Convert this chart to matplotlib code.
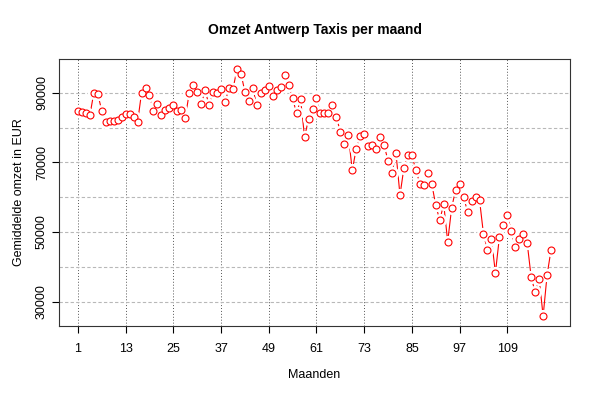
import numpy as np
import matplotlib
matplotlib.use("Agg")
from matplotlib import pyplot as plt

plt.rcParams['font.family'] = ['Liberation Sans', 'DejaVu Sans']

title = 'Omzet Antwerp Taxis per maand'
xlabel = 'Maanden'
ylabel = 'Gemiddelde omzet in EUR'

omzet = [
    84840, 84560, 84270, 83500, 90000, 89600, 84840, 81500, 81800, 81800,
    82260, 82930, 83800, 83800, 83120, 81500, 90000, 91430, 89330, 84840,
    86750, 83700, 85030, 85700, 86560, 84840, 85130, 82840, 90000, 92290,
    90290, 86660, 90670, 86370, 90290, 90000, 91050, 87330, 91340, 91050,
    96880, 95540, 90290, 87710, 91340, 86370, 90000, 90670, 92000, 88950,
    90670, 91620, 95250, 92290, 88380, 84080, 88090, 77300, 82450, 85420,
    88380, 84080, 84080, 84080, 86370, 83030, 78830, 75290, 77870, 67750,
    73950, 77580, 78250, 74720, 75010, 73950, 77300, 75010, 70420, 67080,
    72620, 60580, 68510, 72040, 72040, 67750, 63930, 63540, 67080, 63830,
    57620, 53420, 58000, 47210, 56950, 62210, 63830, 60200, 55710, 58960,
    60200, 59250, 49410, 44920, 48070, 38230, 48450, 51990, 54950, 50170,
    45590, 48070, 49410, 46730, 36990, 32690, 36610, 25820, 37660, 44920,
]
maanden = np.arange(1, len(omzet) + 1)
xticks = [1, 13, 25, 37, 49, 61, 73, 85, 97, 109]
yticks = [30000, 50000, 70000, 90000]
ygrid = [30000, 40000, 50000, 60000, 70000, 80000, 90000]

fig = plt.figure(figsize=(6, 4), dpi=100)
ax = fig.add_axes([59 / 600, 74 / 400, 511 / 600, 267 / 400])

# R-style type="b": lines with a gap around each point
ax.plot(maanden, omzet, color='red', lw=0.8, zorder=2)
ax.plot(maanden, omzet, linestyle='none', marker='o', ms=8.5,
        mfc='white', mec='white', zorder=3)
ax.plot(maanden, omzet, linestyle='none', marker='o', ms=5,
        mfc='white', mec='red', mew=0.8, zorder=4)

pad_x = 0.04 * (maanden[-1] - maanden[0])
ax.set_xlim(maanden[0] - pad_x, maanden[-1] + pad_x)
pad_y = 0.04 * (max(omzet) - min(omzet))
ax.set_ylim(min(omzet) - pad_y, max(omzet) + pad_y)

for x in xticks:
    ax.axvline(x, color='#555555', lw=0.7, ls=(0, (1, 2)), zorder=1)
for y in ygrid:
    ax.axhline(y, color='#b8b8b8', lw=0.8, ls=(0, (3, 2)), zorder=1)

ax.set_xticks(xticks)
ax.set_yticks(yticks)
ax.set_yticklabels([str(v) for v in yticks], rotation=90, va='center')
ax.tick_params(labelsize=9, length=5, width=0.8, pad=7)
ax.tick_params(axis='y', pad=3)

for s in ax.spines.values():
    s.set_color('#333333')
    s.set_linewidth(0.8)

ax.set_title(title, fontsize=10, fontweight='bold', pad=18)
ax.set_xlabel(xlabel, fontsize=9, labelpad=10)
ax.set_ylabel(ylabel, fontsize=9, labelpad=8)

fig.savefig('out.png', dpi=100)
